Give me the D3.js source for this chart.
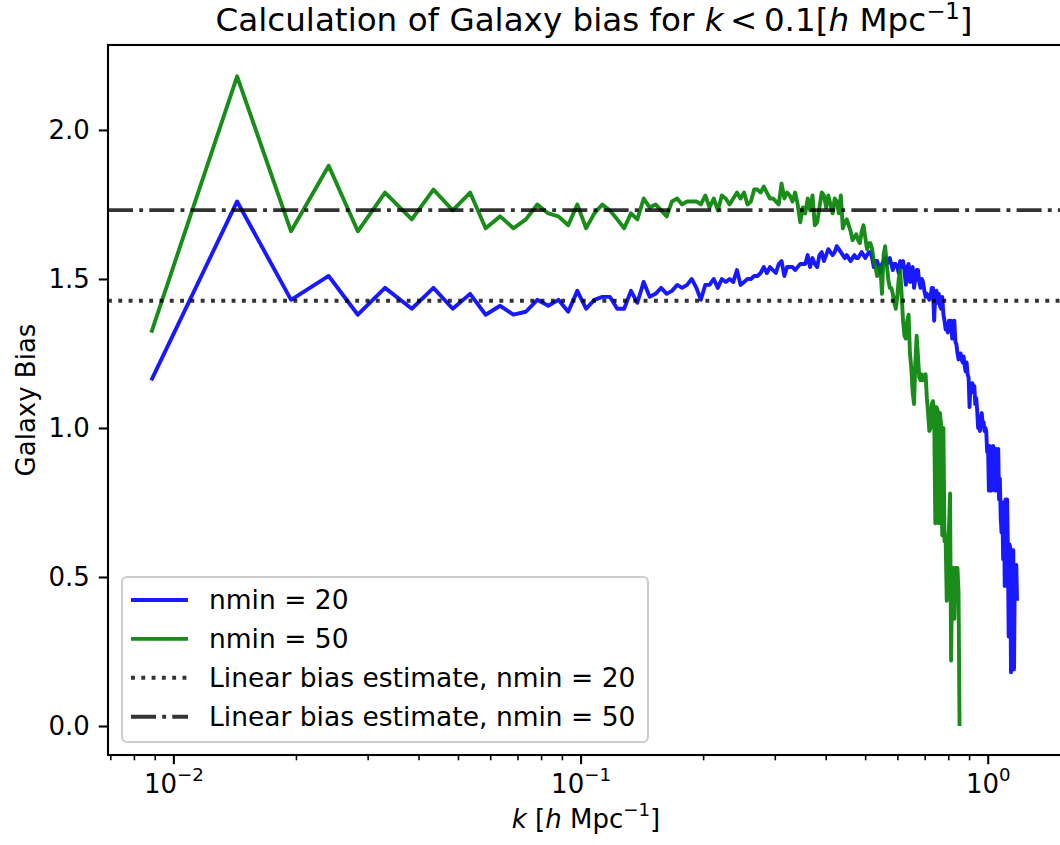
<!DOCTYPE html>
<html>
<head>
<meta charset="utf-8">
<script src="https://cdn.jsdelivr.net/npm/d3@7"></script>
<style>
  body { margin: 0; background: #fff; }
  svg text { font-family: "DejaVu Sans", sans-serif; fill: #000; }
</style>
</head>
<body>
<div id="plot"></div>
<script>
// wavenumber bins k [h/Mpc]
var k = [
  0.0088, 0.0143, 0.0194, 0.0240, 0.0283, 0.0330, 0.0384, 0.0434, 0.0484, 0.0534,
  0.0583, 0.0633, 0.0682, 0.0732, 0.0781, 0.0831, 0.0880, 0.0930, 0.0979, 0.1029,
  0.1078, 0.1128, 0.1177, 0.1227, 0.1276, 0.1326, 0.1375, 0.1425, 0.1474, 0.1524,
  0.1573, 0.1623, 0.1672, 0.1722, 0.1771, 0.1821, 0.1870, 0.1920, 0.1969, 0.2019,
  0.2068, 0.2118, 0.2167, 0.2217, 0.2266, 0.2316, 0.2365, 0.2415, 0.2464, 0.2514,
  0.2563, 0.2613, 0.2662, 0.2712, 0.2761, 0.2811, 0.2860, 0.2910, 0.2959, 0.3009,
  0.3058, 0.3108, 0.3157, 0.3207, 0.3256, 0.3306, 0.3355, 0.3405, 0.3454, 0.3504,
  0.3553, 0.3603, 0.3652, 0.3702, 0.3751, 0.3801, 0.3850, 0.3900, 0.3949, 0.3999,
  0.4048, 0.4098, 0.4147, 0.4197, 0.4246, 0.4296, 0.4345, 0.4395, 0.4444, 0.4494,
  0.4543, 0.4593, 0.4642, 0.4692, 0.4741, 0.4791, 0.4840, 0.4890, 0.4939, 0.4989,
  0.5038, 0.5088, 0.5137, 0.5187, 0.5236, 0.5286, 0.5335, 0.5385, 0.5434, 0.5484,
  0.5533, 0.5583, 0.5632, 0.5682, 0.5731, 0.5781, 0.5830, 0.5880, 0.5929, 0.5979,
  0.6028, 0.6078, 0.6127, 0.6177, 0.6226, 0.6276, 0.6325, 0.6375, 0.6424, 0.6474,
  0.6523, 0.6573, 0.6622, 0.6672, 0.6721, 0.6771, 0.6820, 0.6870, 0.6919, 0.6969,
  0.7018, 0.7068, 0.7117, 0.7167, 0.7216, 0.7266, 0.7315, 0.7365, 0.7414, 0.7464,
  0.7513, 0.7563, 0.7612, 0.7662, 0.7711, 0.7761, 0.7810, 0.7860, 0.7909, 0.7959,
  0.8008, 0.8058, 0.8107, 0.8157, 0.8206, 0.8256, 0.8305, 0.8355, 0.8404, 0.8454,
  0.8503, 0.8553, 0.8602, 0.8652, 0.8701, 0.8751, 0.8800, 0.8850, 0.8899, 0.8949,
  0.8998, 0.9048, 0.9097, 0.9147, 0.9196, 0.9246, 0.9295, 0.9345, 0.9394, 0.9444,
  0.9493, 0.9543, 0.9592, 0.9642, 0.9691, 0.9741, 0.9790, 0.9840, 0.9889, 0.9939,
  0.9988, 1.0038, 1.0087, 1.0137, 1.0186, 1.0236, 1.0285, 1.0335, 1.0384, 1.0434,
  1.0483, 1.0533, 1.0582, 1.0632, 1.0681, 1.0731, 1.0780, 1.0830, 1.0879, 1.0929,
  1.0978, 1.1028, 1.1077, 1.1127, 1.1176, 1.1226, 1.1275, 1.1325, 1.1374, 1.1424,
  1.1473, 1.1523, 1.1572, 1.1622, 1.1671, 1.1721, 1.1770
];

// galaxy bias, nmin = 20
var bias20 = [
  1.16, 1.76, 1.43, 1.51, 1.38, 1.47, 1.40, 1.47, 1.40, 1.45,
  1.38, 1.41, 1.38, 1.39, 1.43, 1.41, 1.43, 1.39, 1.46, 1.40,
  1.43, 1.44, 1.44, 1.40, 1.40, 1.46, 1.42, 1.49, 1.44, 1.45,
  1.47, 1.45, 1.46, 1.48, 1.47, 1.48, 1.50, 1.47, 1.43, 1.48,
  1.48, 1.50, 1.47, 1.50, 1.49, 1.50, 1.49, 1.53, 1.48, 1.49,
  1.50, 1.50, 1.51, 1.51, 1.52, 1.54, 1.52, 1.54, 1.53, 1.52,
  1.55, 1.56, 1.51, 1.54, 1.54, 1.54, 1.53, 1.54, 1.55, 1.55,
  1.55, 1.58, 1.54, 1.57, 1.55, 1.54, 1.58, 1.59, 1.56, 1.58,
  1.60, 1.59, 1.58, 1.59, 1.61, 1.60, 1.59, 1.58, 1.57, 1.58,
  1.57, 1.56, 1.57, 1.58, 1.57, 1.57, 1.58, 1.59, 1.58, 1.57,
  1.58, 1.59, 1.59, 1.57, 1.54, 1.56, 1.56, 1.54, 1.52, 1.55,
  1.56, 1.57, 1.55, 1.56, 1.57, 1.55, 1.53, 1.55, 1.55, 1.54,
  1.52, 1.56, 1.54, 1.56, 1.53, 1.48, 1.54, 1.55, 1.49, 1.53,
  1.54, 1.47, 1.50, 1.53, 1.53, 1.49, 1.47, 1.50, 1.49, 1.46,
  1.44, 1.45, 1.44, 1.43, 1.44, 1.47, 1.47, 1.36, 1.45, 1.46,
  1.42, 1.45, 1.41, 1.40, 1.44, 1.38, 1.36, 1.33, 1.35, 1.32,
  1.36, 1.34, 1.36, 1.30, 1.33, 1.36, 1.29, 1.28, 1.25, 1.23,
  1.24, 1.25, 1.23, 1.22, 1.24, 1.21, 1.19, 1.22, 1.18, 1.17,
  1.07, 1.15, 1.14, 1.15, 1.12, 1.14, 1.08, 1.10, 1.06, 1.00,
  1.01, 0.99, 1.03, 1.05, 1.01, 1.02, 0.99, 1.00, 0.99, 0.92,
  0.94, 0.79, 0.94, 0.92, 0.79, 0.80, 0.94, 0.92, 0.79, 0.93,
  0.92, 0.79, 0.93, 0.76, 0.83, 0.70, 0.65, 0.75, 0.56, 0.75,
  0.47, 0.76, 0.62, 0.76, 0.60, 0.30, 0.61, 0.60, 0.18, 0.59,
  0.55, 0.59, 0.19, 0.52, 0.45, 0.54, 0.42
];

// galaxy bias, nmin = 50
var bias50 = [
  1.32, 2.18, 1.66, 1.88, 1.66, 1.79, 1.70, 1.80, 1.73, 1.79,
  1.67, 1.71, 1.67, 1.70, 1.75, 1.72, 1.71, 1.68, 1.75, 1.67,
  1.72, 1.75, 1.73, 1.70, 1.67, 1.72, 1.70, 1.77, 1.74, 1.75,
  1.73, 1.71, 1.76, 1.77, 1.75, 1.76, 1.76, 1.76, 1.75, 1.78,
  1.74, 1.77, 1.73, 1.78, 1.77, 1.75, 1.77, 1.79, 1.77, 1.79,
  1.75, 1.76, 1.80, 1.80, 1.79, 1.81, 1.79, 1.77, 1.77, 1.76,
  1.75, 1.82, 1.77, 1.79, 1.78, 1.76, 1.79, 1.75, 1.69, 1.74,
  1.72, 1.77, 1.73, 1.78, 1.68, 1.69, 1.74, 1.79, 1.78, 1.74,
  1.78, 1.75, 1.72, 1.77, 1.76, 1.72, 1.78, 1.67, 1.69, 1.70,
  1.68, 1.66, 1.63, 1.64, 1.65, 1.63, 1.62, 1.66, 1.68, 1.64,
  1.60, 1.62, 1.62, 1.60, 1.56, 1.54, 1.51, 1.53, 1.54, 1.45,
  1.58, 1.61, 1.55, 1.50, 1.47, 1.47, 1.45, 1.42, 1.40, 1.44,
  1.50, 1.53, 1.45, 1.36, 1.31, 1.30, 1.36, 1.38, 1.25, 1.20,
  1.12, 1.08, 1.22, 1.31, 1.24, 1.17, 1.16, 1.18, 1.16, 1.17,
  1.18, 1.10, 1.05, 0.99, 1.00, 1.08, 1.09, 1.06, 0.68, 1.07,
  1.06, 0.68, 1.05, 1.01, 0.64, 1.00, 0.62, 0.63, 0.42, 0.62,
  0.66, 0.78, 0.22, 0.53, 0.53, 0.36, 0.53, 0.53, 0.53, 0.45,
  0.00
];

var linBias20 = 1.427;
var linBias50 = 1.731;

var yTicks = [0, 0.5, 1.0, 1.5, 2.0];
var xMajor = [0.01, 0.1, 1];
var xMajorExp = ['\u22122', '\u22121', '0'];
var xMinor = [0.007, 0.008, 0.009, 0.02, 0.03, 0.04, 0.05, 0.06, 0.07, 0.08, 0.09,
              0.2, 0.3, 0.4, 0.5, 0.6, 0.7, 0.8, 0.9];

var legendLabels = ['nmin = 20', 'nmin = 50',
                    'Linear bias estimate, nmin = 20', 'Linear bias estimate, nmin = 50'];

var width = 1060;
var height = 845;
var axL = 108, axR = 1064, axT = 45, axB = 755;

var blue = 'rgba(0,0,255,0.9)';
var green = 'rgba(0,128,0,0.9)';
var gray = 'rgba(0,0,0,0.8)';
var lw = 3.9;
var dotted = '3.9,6.4';
var dashdot = '25,6.2,3.9,6.2';

var canvas = d3.select('#plot')
    .append('svg')
    .attr('width', width)
    .attr('height', height);

var x_scale = d3.scaleLog()
    .domain([0.00689, 1.535])
    .range([axL, axR]);

var y_scale = d3.scaleLinear()
    .domain([-0.0973, 2.285])
    .range([axB, axT]);

canvas.append('clipPath')
    .attr('id', 'clip')
    .append('rect')
    .attr('x', axL).attr('y', axT)
    .attr('width', axR - axL).attr('height', axB - axT);

var plot = canvas.append('g').attr('clip-path', 'url(#clip)');

var line = d3.line()
    .x(function(d) { return x_scale(d[0]); })
    .y(function(d) { return y_scale(d[1]); });

var s20 = bias20.map(function(v, i) { return [k[i], v]; });
var s50 = bias50.map(function(v, i) { return [k[i], v]; });

plot.append('path')
    .datum(s20)
    .attr('d', line)
    .attr('fill', 'none')
    .attr('stroke', blue)
    .attr('stroke-width', lw)
    .attr('stroke-linejoin', 'round');

plot.append('path')
    .datum(s50)
    .attr('d', line)
    .attr('fill', 'none')
    .attr('stroke', green)
    .attr('stroke-width', lw)
    .attr('stroke-linejoin', 'round');

// horizontal linear bias estimates
plot.append('line')
    .attr('x1', axL).attr('x2', axR)
    .attr('y1', y_scale(linBias20)).attr('y2', y_scale(linBias20))
    .attr('stroke', gray)
    .attr('stroke-width', lw)
    .attr('stroke-dasharray', dotted);

plot.append('line')
    .attr('x1', axL).attr('x2', axR)
    .attr('y1', y_scale(linBias50)).attr('y2', y_scale(linBias50))
    .attr('stroke', gray)
    .attr('stroke-width', lw)
    .attr('stroke-dasharray', dashdot);

// y axis
var y_axis = d3.axisLeft(y_scale)
    .tickValues(yTicks)
    .tickSize(9.2)
    .tickPadding(9)
    .tickFormat(d3.format('.1f'));

var gy = canvas.append('g')
    .attr('transform', 'translate(' + axL + ',0)')
    .call(y_axis);
gy.select('.domain').remove();
gy.selectAll('line').attr('stroke', '#000').attr('stroke-width', 2.1);
gy.selectAll('text').attr('font-size', 26).attr('font-family', 'DejaVu Sans');

// x axis: major + minor ticks
var gx = canvas.append('g')
    .attr('transform', 'translate(0,' + axB + ')');

gx.selectAll('line.minor')
    .data(xMinor)
    .enter()
    .append('line')
    .attr('class', 'minor')
    .attr('x1', function(d) { return x_scale(d); })
    .attr('x2', function(d) { return x_scale(d); })
    .attr('y1', 0).attr('y2', 5.3)
    .attr('stroke', '#000').attr('stroke-width', 1.6);

gx.selectAll('line.major')
    .data(xMajor)
    .enter()
    .append('line')
    .attr('class', 'major')
    .attr('x1', function(d) { return x_scale(d); })
    .attr('x2', function(d) { return x_scale(d); })
    .attr('y1', 0).attr('y2', 9.2)
    .attr('stroke', '#000').attr('stroke-width', 2.1);

var xlab = gx.selectAll('text.xtick')
    .data(xMajor)
    .enter()
    .append('text')
    .attr('class', 'xtick')
    .attr('x', function(d) { return x_scale(d); })
    .attr('y', 38)
    .attr('text-anchor', 'middle')
    .attr('font-size', 26);
xlab.append('tspan').text('10');
xlab.append('tspan')
    .attr('dy', -12)
    .attr('font-size', 18.2)
    .text(function(d, i) { return xMajorExp[i]; });

// frame
canvas.append('rect')
    .attr('x', axL).attr('y', axT)
    .attr('width', axR - axL).attr('height', axB - axT)
    .attr('fill', 'none')
    .attr('stroke', '#000')
    .attr('stroke-width', 2.1);

// axis labels and title
var xl = canvas.append('text')
    .attr('x', (axL + axR) / 2)
    .attr('y', 828)
    .attr('text-anchor', 'middle')
    .attr('font-size', 26);
xl.append('tspan').attr('font-style', 'italic').text('k');
xl.append('tspan').text(' [');
xl.append('tspan').attr('font-style', 'italic').text('h');
xl.append('tspan').text(' Mpc');
xl.append('tspan').attr('dy', -12).attr('font-size', 18.2).text('\u22121');
xl.append('tspan').attr('dy', 12).text(']');

canvas.append('text')
    .attr('transform', 'translate(35,' + ((axT + axB) / 2) + ') rotate(-90)')
    .attr('text-anchor', 'middle')
    .attr('font-size', 26)
    .text('Galaxy Bias');

var title = canvas.append('text')
    .attr('x', 594)
    .attr('y', 31)
    .attr('text-anchor', 'middle')
    .attr('font-size', 32.6);
title.append('tspan').text('Calculation of Galaxy bias for ');
title.append('tspan').attr('font-style', 'italic').text('k');
title.append('tspan').text('\u2009<\u20090.1[');
title.append('tspan').attr('font-style', 'italic').text('h');
title.append('tspan').text(' Mpc');
title.append('tspan').attr('dy', -12).attr('font-size', 22.8).text('\u22121');
title.append('tspan').attr('dy', 12).text(']');

// legend
var legend = canvas.append('g');
legend.append('rect')
    .attr('x', 122).attr('y', 577)
    .attr('width', 526).attr('height', 165)
    .attr('rx', 5).attr('ry', 5)
    .attr('fill', 'rgba(255,255,255,0.8)')
    .attr('stroke', '#cccccc')
    .attr('stroke-width', 2.1);

var legendStyles = [
    { color: blue, dash: null },
    { color: green, dash: null },
    { color: gray, dash: dotted },
    { color: gray, dash: dashdot }
];

var rows = legend.selectAll('g.row')
    .data(legendLabels)
    .enter()
    .append('g')
    .attr('class', 'row')
    .attr('transform', function(d, i) { return 'translate(0,' + (600 + i * 38.9) + ')'; });

rows.append('line')
    .attr('x1', 131).attr('x2', 188)
    .attr('y1', 0).attr('y2', 0)
    .attr('stroke', function(d, i) { return legendStyles[i].color; })
    .attr('stroke-width', lw)
    .attr('stroke-dasharray', function(d, i) { return legendStyles[i].dash; });

rows.append('text')
    .attr('x', 209)
    .attr('y', 0)
    .attr('dy', '0.35em')
    .attr('font-size', 26.5)
    .text(function(d) { return d; });
</script>
</body>
</html>
